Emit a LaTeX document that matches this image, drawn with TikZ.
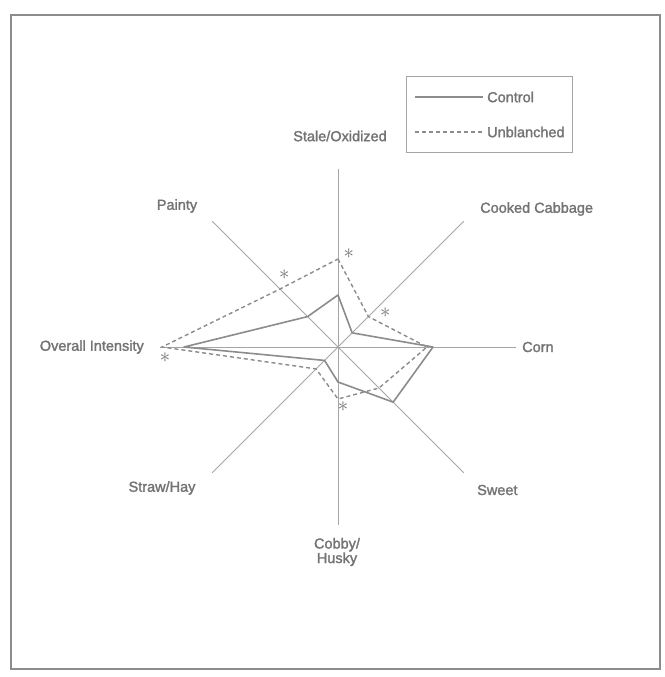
\documentclass[tikz,border=0pt]{standalone}
\usepackage{fontspec}
\setmainfont{Liberation Sans}
\newfontfamily\lblfont{Liberation Sans}[FakeBold=1.6]
\usetikzlibrary{calc}
\definecolor{txtgray}{RGB}{115,115,115}
\definecolor{axgray}{RGB}{165,165,165}
\definecolor{polygray}{RGB}{140,140,140}
\definecolor{framegray}{RGB}{140,140,140}
\tikzset{
  lbl/.style={font=\lblfont\fontsize{14.5}{15}\selectfont, text=txtgray, inner sep=0pt},
  axisline/.style={draw=axgray, line width=0.9pt},
  ctrlline/.style={draw=polygray, line width=1.6pt, line join=round},
  unbline/.style={draw=polygray, line width=1.4pt, dash pattern=on 4pt off 3pt},
  star/.style={font=\fontsize{21}{21}\selectfont, text=txtgray, inner sep=0pt},
  framebox/.style={draw=framegray, line width=1.2pt},
  legendbox/.style={draw=axgray, line width=0.9pt}
}
\begin{document}
\begin{tikzpicture}[x=1pt,y=-1pt]
\useasboundingbox (0,0) rectangle (664,677);
\fill[white] (0,0) rectangle (664,677);
\draw[framebox] (11,15) rectangle (660,669);
% centre
\coordinate (C) at (338,347);
% axes
\foreach \n/\a in {S/-90,CC/-45,Co/0,Sw/45,Cb/90,SH/135,OI/180,P/-135}{
  \coordinate (ax\n) at ($(C)+(\a:178)$);
  \draw[axisline] (C) -- (ax\n);
}
% control data
\foreach \n/\a/\r in {S/-90/52,CC/-45/20,Co/0/95,Sw/45/78,Cb/90/35,SH/135/19,OI/180/154,P/-135/43}{
  \coordinate (c\n) at ($(C)+(\a:\r)$);
}
% unblanched data
\foreach \n/\a/\r in {S/-90/88,CC/-45/43,Co/0/89,Sw/45/58,Cb/90/52,SH/135/31,OI/180/176,P/-135/82}{
  \coordinate (u\n) at ($(C)+(\a:\r)$);
}
\draw[ctrlline] (cS) -- (cCC) -- (cCo) -- (cSw) -- (cCb) -- (cSH) -- (cOI) -- (cP) -- cycle;
\draw[unbline] (uS) -- (uCC) -- (uCo) -- (uSw) -- (uCb) -- (uSH) -- (uOI) -- (uP) -- cycle;
% asterisks
\node[star] (s1) at (348.7,254) {$\ast$};
\node[star] (s2) at (284.3,275) {$\ast$};
\node[star] (s3) at (385.3,313) {$\ast$};
\node[star] (s4) at (343,407) {$\ast$};
\node[star] (s5) at (165,358) {$\ast$};
% labels
\node[lbl] (lS) at (340,136) {Stale/Oxidized};
\node[lbl, anchor=west] (lCC) at (480,209) {Cooked Cabbage};
\node[lbl, anchor=west] (lCo) at (522,347) {Corn};
\node[lbl, anchor=west] (lSw) at (477,490) {Sweet};
\node[lbl, align=center, font=\lblfont\fontsize{14.5}{12.5}\selectfont] (lCb) at (337,552) {Cobby/\\Husky};
\node[lbl, anchor=east] (lOI) at (144,347) {Overall Intensity};
\node[lbl] (lP) at (177,206) {Painty};
\node[lbl] (lSH) at (162,488) {Straw/Hay};
% legend
\draw[legendbox] (406,76) rectangle (572,152);
\coordinate (lg1a) at (415,97);
\coordinate (lg1b) at (483,97);
\coordinate (lg2a) at (415,132);
\coordinate (lg2b) at (483,132);
\draw[draw=polygray, line width=1.1pt] (lg1a) -- (lg1b);
\draw[draw=polygray, line width=1.1pt, dash pattern=on 4pt off 3pt] (lg2a) -- (lg2b);
\node[lbl, anchor=west] (tCtrl) at (487,97) {Control};
\node[lbl, anchor=west] (tUnb) at (487,132) {Unblanched};
\end{tikzpicture}
\end{document}
